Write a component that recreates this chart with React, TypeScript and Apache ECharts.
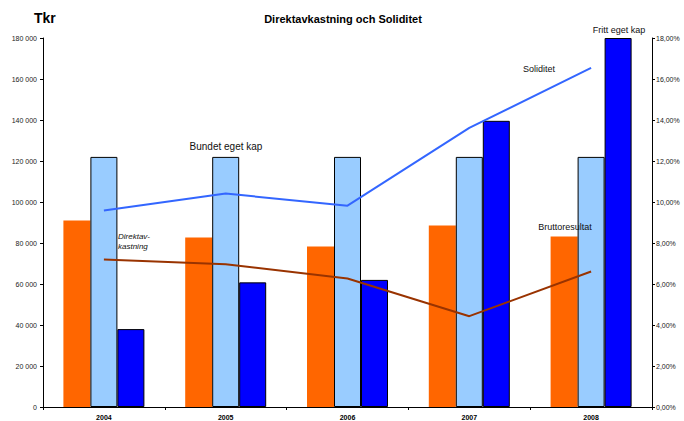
import React, { useEffect, useRef } from "react";
import * as echarts from "echarts";

// Years on the category axis
const years = ["2004", "2005", "2006", "2007", "2008"];

// Amounts in Tkr (left axis)
const bruttoresultat = [91000, 82700, 78300, 88500, 83200];
const bundetEgetKap = [122000, 122000, 122000, 122000, 122000];
const frittEgetKap = [38000, 60800, 62000, 139600, 180000];

// Ratios in percent (right axis)
const soliditet = [9.58, 10.41, 9.82, 13.62, 16.54];
const direktavkastning = [7.2, 6.96, 6.27, 4.43, 6.61];

const FONT = "'Liberation Sans', Arial, Helvetica, sans-serif";

const fmtTkr = (v: number) =>
  String(Math.round(v)).replace(/\B(?=(\d{3})+(?!\d))/g, " ");
const fmtPct = (v: number) => v.toFixed(2).replace(".", ",") + "%";

export default function App() {
  const ref = useRef<HTMLDivElement>(null);

  useEffect(() => {
    if (!ref.current) return;
    const chart = echarts.init(ref.current, undefined, { renderer: "svg" });
    const textBase = { fontFamily: FONT, fill: "#000" };
    const label = (x: number, y: number, text: string, fontSize: number) => ({
      type: "text",
      x,
      y,
      z: 100,
      style: {
        ...textBase,
        text,
        fontSize,
        align: "center",
        verticalAlign: "middle",
        fill: "#111",
      },
    });
    chart.setOption({
      animation: false,
      backgroundColor: "#fff",
      textStyle: { fontFamily: FONT },
      grid: { left: 43, right: 32, top: 38, bottom: 13, containLabel: false },
      xAxis: {
        type: "category",
        data: years,
        boundaryGap: true,
        axisLine: { lineStyle: { color: "#000", width: 1 } },
        axisTick: { show: true, length: 3, lineStyle: { color: "#000" } },
        axisLabel: {
          color: "#000",
          fontSize: 7,
          fontWeight: "bold",
          margin: 7,
          fontFamily: FONT,
        },
      },
      yAxis: [
        {
          type: "value",
          min: 0,
          max: 180000,
          interval: 20000,
          splitLine: { show: false },
          axisLine: { show: true, lineStyle: { color: "#000", width: 1 } },
          axisTick: { show: true, length: 3, lineStyle: { color: "#000" } },
          axisLabel: {
            color: "#222",
            fontSize: 7,
            margin: 6,
            fontFamily: FONT,
            formatter: fmtTkr,
          },
        },
        {
          type: "value",
          min: 0,
          max: 18,
          interval: 2,
          position: "right",
          splitLine: { show: false },
          axisLine: { show: true, lineStyle: { color: "#000", width: 1 } },
          axisTick: { show: true, length: 3, lineStyle: { color: "#000" } },
          axisLabel: {
            color: "#222",
            fontSize: 7,
            margin: 4,
            fontFamily: FONT,
            formatter: fmtPct,
          },
        },
      ],
      series: [
        {
          name: "Bruttoresultat",
          type: "bar",
          data: bruttoresultat,
          barWidth: 27,
          barGap: "0%",
          itemStyle: { color: "#FF6600" },
        },
        {
          name: "Bundet eget kap",
          type: "bar",
          data: bundetEgetKap,
          barWidth: 27,
          barGap: "0%",
          itemStyle: { color: "#99CCFF", borderColor: "#000", borderWidth: 1 },
        },
        {
          name: "Fritt eget kap",
          type: "bar",
          data: frittEgetKap,
          barWidth: 27,
          barGap: "0%",
          itemStyle: { color: "#0000FF", borderColor: "#000", borderWidth: 1 },
        },
        {
          name: "Soliditet",
          type: "line",
          yAxisIndex: 1,
          data: soliditet,
          symbol: "none",
          z: 5,
          lineStyle: { color: "#3366FF", width: 2 },
        },
        {
          name: "Direktavkastning",
          type: "line",
          yAxisIndex: 1,
          data: direktavkastning,
          symbol: "none",
          z: 5,
          lineStyle: { color: "#993300", width: 2 },
        },
      ],
      graphic: [
        {
          type: "text",
          left: 34,
          top: 11,
          z: 100,
          style: { ...textBase, text: "Tkr", fontSize: 14, fontWeight: "bold" },
        },
        {
          type: "text",
          x: 343,
          y: 19,
          z: 100,
          style: {
            ...textBase,
            text: "Direktavkastning och Soliditet",
            fontSize: 11,
            fontWeight: "bold",
            align: "center",
            verticalAlign: "middle",
          },
        },
        label(619, 30, "Fritt eget kap", 9),
        label(539, 69, "Soliditet", 9),
        label(226, 146, "Bundet eget kap", 10),
        label(565, 227, "Bruttoresultat", 9),
        {
          type: "text",
          x: 118,
          y: 231,
          z: 100,
          style: {
            ...textBase,
            text: "Direktav-\nkastning",
            fontSize: 8,
            fontStyle: "italic",
            lineHeight: 10,
            align: "left",
            verticalAlign: "top",
            fill: "#111",
          },
        },
      ],
    });
    return () => chart.dispose();
  }, []);

  return (
    <div
      ref={ref}
      style={{ width: 684, height: 421, position: "absolute", left: 0, top: 0 }}
    />
  );
}
